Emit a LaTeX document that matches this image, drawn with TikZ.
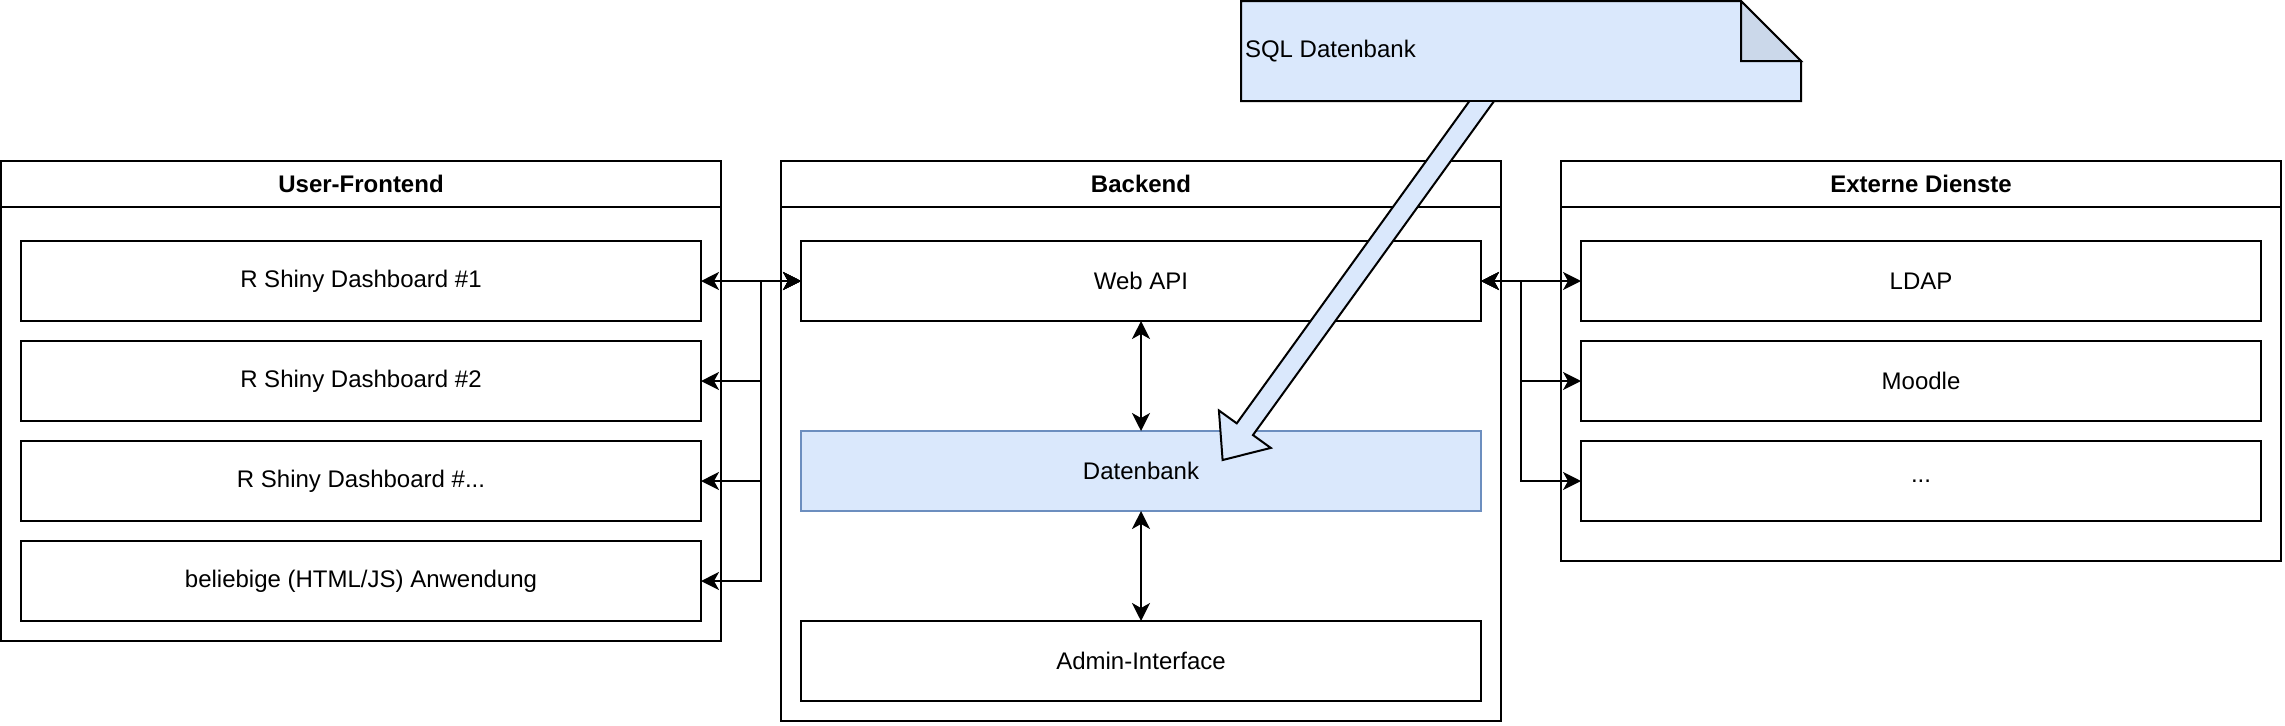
\documentclass[tikz,border=0pt]{standalone}
\usepackage{fontspec}
\setmainfont{Liberation Sans}
\usepackage{tikz}
\usetikzlibrary{positioning,calc,arrows.meta,backgrounds}
\definecolor{LightBlue}{HTML}{DAE8FC}
\definecolor{EdgeBlue}{HTML}{6C8EBF}
\colorlet{FoldBlue}{LightBlue!93!black}
\tikzstyle{lanehead} = [rectangle, draw=black, line width=1pt, minimum width=360pt, minimum height=23pt, font=\fontsize{12pt}{14pt}\selectfont\bfseries]
\tikzstyle{lane} = [rectangle, draw=black, line width=1pt, minimum width=360pt]
\tikzstyle{block} = [rectangle, draw=black, line width=1pt, minimum width=340pt, minimum height=40pt]
\tikzstyle{dbblock} = [block, draw=EdgeBlue, fill=LightBlue]
\tikzstyle{note} = [rectangle, minimum width=280pt, minimum height=50pt, inner sep=2pt]
\tikzstyle{flex} = [draw=black, fill=LightBlue, line width=1pt, line join=miter]
\tikzstyle{line} = [draw, line width=1pt, <->]

\begin{document}
\begin{tikzpicture}[x=1pt, y=1pt, line width=1pt, outer sep=0pt,
                    node distance=10pt,
                    font=\fontsize{12pt}{14pt}\selectfont,
                    >={Stealth[length=9pt,width=9pt,inset=2.5pt]}]

    \useasboundingbox (0,0) rectangle (1142.5,-362.5);

    % containers
    \node (fehead) [lanehead, anchor=north west] at (0.5,-80.5) {User-Frontend};
    \node (febody) [lane, below=0pt of fehead, minimum height=217pt] {};
    \node (behead) [lanehead, right=30pt of fehead] {Backend};
    \node (bebody) [lane, below=0pt of behead, minimum height=257pt] {};
    \node (exhead) [lanehead, right=30pt of behead] {Externe Dienste};
    \node (exbody) [lane, below=0pt of exhead, minimum height=177pt] {};

    % frontend
    \node (fe1) [block, below right=17pt and 10pt of fehead.south west] {R Shiny Dashboard \#1};
    \node (fe2) [block, below=of fe1] {R Shiny Dashboard \#2};
    \node (fe3) [block, below=of fe2] {R Shiny Dashboard \#...};
    \node (fe4) [block, below=of fe3] {beliebige (HTML/JS) Anwendung};

    % backend
    \node (api)   [block, below right=17pt and 10pt of behead.south west] {Web API};
    \node (dbase) [dbblock, below=55pt of api] {Datenbank};
    \node (admin) [block, below=55pt of dbase] {Admin-Interface};

    % externe dienste
    \node (ldap)   [block, below right=17pt and 10pt of exhead.south west] {LDAP};
    \node (moodle) [block, below=of ldap] {Moodle};
    \node (more)   [block, below=of moodle] {...};

    % note
    \node (sql) [note] at (760.5,-25.5) {\hbox to 276pt{SQL Datenbank\hfil}};
    \begin{pgfonlayer}{background}
      \path [flex] (sql.north west) -- ([xshift=-30pt]sql.north east)
            -- ([yshift=-30pt]sql.north east) -- (sql.south east)
            -- (sql.south west) -- cycle;
      \path [flex, fill=FoldBlue] ([xshift=-30pt]sql.north east)
            |- ([yshift=-30pt]sql.north east) -- cycle;
    \end{pgfonlayer}

    % block arrow
    \coordinate (sqlout) at ($(sql.south west)!0.43!(sql.south east)$);
    \coordinate (dbin) at ($(dbase.north west)!0.62!(dbase.north east)+(0,-14.5)$);
    \coordinate (sqlback) at ($(sqlout)!-10pt!(dbin)$);
    \coordinate (headbase) at ($(dbin)!19pt!(sqlout)$);
    \begin{scope}
      \clip ([xshift=-60pt,yshift=-0.5pt]sql.south west) rectangle ([xshift=40pt]dbase.south east);
      \path [flex] ($(sqlback)!5pt!90:(dbin)$) -- ($(headbase)!5pt!90:(dbin)$)
            -- ($(headbase)!16pt!90:(dbin)$) -- (dbin)
            -- ($(headbase)!16pt!-90:(dbin)$) -- ($(headbase)!5pt!-90:(dbin)$)
            -- ($(sqlback)!5pt!-90:(dbin)$) -- cycle;
    \end{scope}

    \path [line] (api.west) -- (fe1.east);
    \path [line] (api.west) -- ++(-20,0) |- (fe2.east);
    \path [line] (api.west) -- ++(-20,0) |- (fe3.east);
    \path [line] (api.west) -- ++(-20,0) |- (fe4.east);
    \path [line] (api.east) -- (ldap.west);
    \path [line] (api.east) -- ++(20,0) |- (moodle.west);
    \path [line] (api.east) -- ++(20,0) |- (more.west);
    \path [line] (api) -- (dbase);
    \path [line] (dbase) -- (admin);
  \end{tikzpicture}
\end{document}
